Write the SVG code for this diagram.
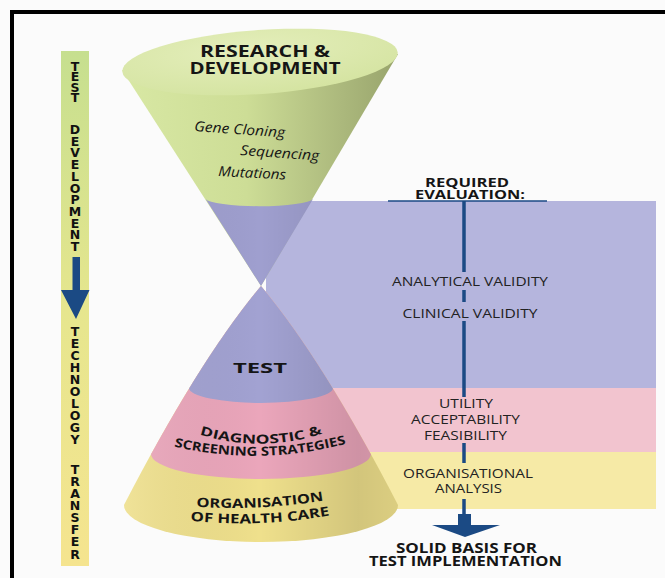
<svg xmlns="http://www.w3.org/2000/svg" width="665" height="578" viewBox="0 0 665 578">
<style>
  .bold{font-family:"Open Sans","Liberation Sans",sans-serif;font-weight:bold;fill:#151515}
  .reg{font-family:"Open Sans","Liberation Sans",sans-serif;fill:#222}
  .ital{font-family:"Open Sans","Liberation Sans",sans-serif;font-style:italic;fill:#151515;font-size:14px}
  .bar{font-family:"DejaVu Sans","Liberation Sans",sans-serif;font-weight:bold;font-size:12.5px;fill:#111;writing-mode:vertical-rl;text-orientation:upright}
  .ctr{text-anchor:middle}
  .navy{fill:#1b4a84}
  .vline{stroke:#1b4a84;stroke-width:3.5}
</style>
<defs>
  <linearGradient id="barGrad" x1="0" y1="51" x2="0" y2="566" gradientUnits="userSpaceOnUse">
    <stop offset="0" stop-color="#c6df8f"/>
    <stop offset="0.5" stop-color="#e6e68e"/>
    <stop offset="1" stop-color="#f5e48f"/>
  </linearGradient>
  <linearGradient id="greenGrad" x1="122" y1="0" x2="398" y2="0" gradientUnits="userSpaceOnUse">
    <stop offset="0" stop-color="#d8e8a4"/>
    <stop offset="0.45" stop-color="#cddd96"/>
    <stop offset="0.8" stop-color="#abb87c"/>
    <stop offset="1" stop-color="#98a46c"/>
  </linearGradient>
  <radialGradient id="topGrad" cx="0.45" cy="0.3" r="0.7">
    <stop offset="0" stop-color="#e4eebb"/>
    <stop offset="1" stop-color="#d5e4a2"/>
  </radialGradient>
  <linearGradient id="shade" x1="120" y1="0" x2="400" y2="0" gradientUnits="userSpaceOnUse">
    <stop offset="0" stop-color="#ffffff" stop-opacity="0.12"/>
    <stop offset="0.5" stop-color="#000000" stop-opacity="0"/>
    <stop offset="0.85" stop-color="#000000" stop-opacity="0.12"/>
    <stop offset="1" stop-color="#000000" stop-opacity="0.08"/>
  </linearGradient>
  <clipPath id="lowerClip">
    <path d="M261 286 Q199 360 124 505 A137 37 0 0 0 398 505 Q323 360 261 286 Z"/>
  </clipPath>
  <path id="p1" d="M192 432 Q261 456 330 431"/>
  <path id="p2" d="M168 445 Q260 468 352 442"/>
  <path id="p3" d="M188 506 Q260 512 332 499"/>
  <path id="p4" d="M183 520 Q260 529 337 514"/>
</defs>

<rect x="0" y="0" width="665" height="578" fill="#fbfbfb"/>
<path d="M12 578 V12 H665" fill="none" stroke="#000" stroke-width="4"/>

<g id="left-bar">
  <rect x="61" y="51" width="28" height="515" fill="url(#barGrad)"/>
  <path class="navy" d="M72.5 257 H80 V290 H89.5 L76 319 L61 290 H72.5 Z"/>
  <text class="bar" x="75" y="59" textLength="46" lengthAdjust="spacing">TEST</text>
  <text class="bar" x="75" y="122" textLength="132" lengthAdjust="spacing">DEVELOPMENT</text>
  <text class="bar" x="75" y="324" textLength="123" lengthAdjust="spacing">TECHNOLOGY</text>
  <text class="bar" x="75" y="461.5" textLength="100" lengthAdjust="spacing">TRANSFER</text>
</g>

<g id="bands">
  <rect x="266" y="201" width="390" height="187" fill="#b5b5dd"/>
  <rect x="266" y="388" width="390" height="64" fill="#f2c4cf"/>
  <rect x="266" y="452" width="390" height="57" fill="#f6eaa6"/>
</g>

<g id="cone-research">
  <path d="M122 70 L261 286 L398 54 Z" fill="url(#greenGrad)"/>
  <path d="M205.6 199 A54 8 0 0 0 313 199 L261 286 Z" fill="#9f9fcf"/>
  <path d="M205.6 199 A54 8 0 0 0 313 199 L261 286 Z" fill="url(#shade)"/>
  <ellipse cx="260" cy="62" rx="138" ry="32" transform="rotate(-4 260 62)" fill="url(#topGrad)"/>
  <text class="bold ctr" font-size="16"><tspan x="265" y="57" textLength="130" lengthAdjust="spacingAndGlyphs">RESEARCH &amp;</tspan><tspan x="265" y="74" textLength="151" lengthAdjust="spacingAndGlyphs">DEVELOPMENT</tspan></text>
  <text class="ital" x="194" y="131" textLength="91" lengthAdjust="spacingAndGlyphs" transform="rotate(4 194 131)">Gene Cloning</text>
  <text class="ital" x="240" y="155" textLength="79" lengthAdjust="spacingAndGlyphs" transform="rotate(4 240 155)">Sequencing</text>
  <text class="ital" x="218" y="176" textLength="68" lengthAdjust="spacingAndGlyphs" transform="rotate(3 218 176)">Mutations</text>
</g>

<g id="cone-lower" clip-path="url(#lowerClip)">
  <rect x="100" y="280" width="320" height="280" fill="#efe08c"/>
  <path d="M100 280 H420 V454 H371 A110 25 0 0 1 151 454 H100 Z" fill="#eba6bb"/>
  <path d="M100 280 H420 V388 H333 A72 15 0 0 1 189 388 H100 Z" fill="#a2a2d2"/>
  <rect x="100" y="280" width="320" height="280" fill="url(#shade)"/>
</g>

<g id="cone-test">
  <text class="bold ctr" x="260" y="373" font-size="15" textLength="54" lengthAdjust="spacingAndGlyphs">TEST</text>
</g>
<g id="cone-diagnostic">
  <text class="bold" font-size="12.5"><textPath href="#p1" startOffset="50%" text-anchor="middle" textLength="125" lengthAdjust="spacingAndGlyphs">DIAGNOSTIC &amp;</textPath></text>
  <text class="bold" font-size="12.5"><textPath href="#p2" startOffset="50%" text-anchor="middle" textLength="174" lengthAdjust="spacingAndGlyphs">SCREENING STRATEGIES</textPath></text>
</g>
<g id="cone-organisation">
  <text class="bold" font-size="13"><textPath href="#p3" startOffset="50%" text-anchor="middle" textLength="128" lengthAdjust="spacingAndGlyphs">ORGANISATION</textPath></text>
  <text class="bold" font-size="13"><textPath href="#p4" startOffset="50%" text-anchor="middle" textLength="140" lengthAdjust="spacingAndGlyphs">OF HEALTH CARE</textPath></text>
</g>

<g id="connectors">
  <line x1="388" y1="201" x2="547" y2="201" stroke="#1b4a84" stroke-width="1.5"/>
  <line class="vline" x1="464" y1="201" x2="464" y2="272"/>
  <line class="vline" x1="464" y1="290" x2="464" y2="302"/>
  <line class="vline" x1="464" y1="321" x2="464" y2="397"/>
  <line class="vline" x1="464" y1="443" x2="464" y2="463"/>
  <line class="vline" x1="464" y1="499" x2="464" y2="516"/>
  <path class="navy" d="M458 514 H471 V525 H500 L465 537 L432 525 H458 Z"/>
</g>

<g id="evaluation">
  <text class="bold ctr" font-size="13"><tspan x="467" y="187" textLength="84" lengthAdjust="spacingAndGlyphs">REQUIRED</tspan><tspan x="470" y="199" textLength="110" lengthAdjust="spacingAndGlyphs">EVALUATION:</tspan></text>
  <text class="reg ctr" x="470" y="286" font-size="13" textLength="156" lengthAdjust="spacingAndGlyphs">ANALYTICAL VALIDITY</text>
  <text class="reg ctr" x="470" y="318" font-size="13" textLength="135" lengthAdjust="spacingAndGlyphs">CLINICAL VALIDITY</text>
  <text class="reg ctr" font-size="13"><tspan x="466" y="408" textLength="54" lengthAdjust="spacingAndGlyphs">UTILITY</tspan><tspan x="465.5" y="424" textLength="109" lengthAdjust="spacingAndGlyphs">ACCEPTABILITY</tspan><tspan x="465.5" y="440" textLength="83" lengthAdjust="spacingAndGlyphs">FEASIBILITY</tspan></text>
  <text class="reg ctr" font-size="13"><tspan x="468" y="478" textLength="130" lengthAdjust="spacingAndGlyphs">ORGANISATIONAL</tspan><tspan x="468.5" y="493" textLength="67" lengthAdjust="spacingAndGlyphs">ANALYSIS</tspan></text>
  <text class="bold ctr" font-size="14"><tspan x="466.5" y="553" textLength="141" lengthAdjust="spacingAndGlyphs">SOLID BASIS FOR</tspan><tspan x="465.5" y="566" textLength="193" lengthAdjust="spacingAndGlyphs">TEST IMPLEMENTATION</tspan></text>
</g>
</svg>
